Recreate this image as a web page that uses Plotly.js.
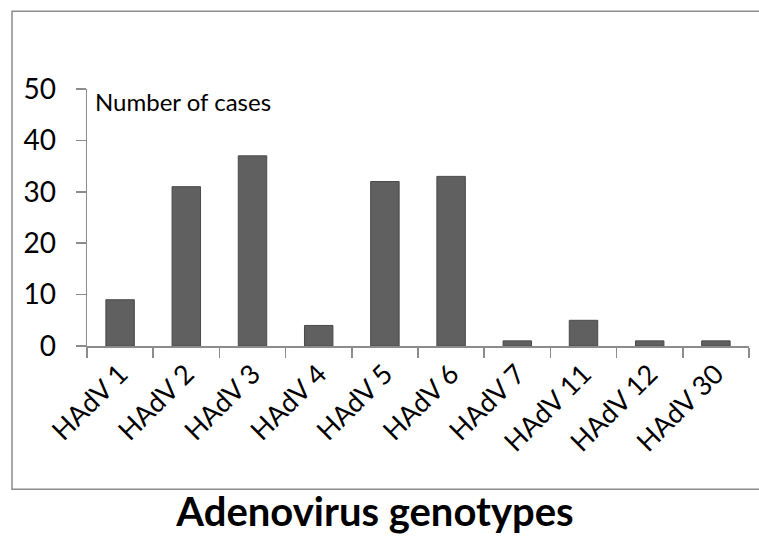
<!DOCTYPE html>
<html>
<head>
<meta charset="utf-8">
<script src="https://cdn.plot.ly/plotly-3.0.1.min.js"></script>
<style>html,body{margin:0;padding:0;background:#fff;}#chart{width:759px;height:537px;}</style>
</head>
<body>
<div id="chart"></div>
<script>
const categories = ["HAdV 1","HAdV 2","HAdV 3","HAdV 4","HAdV 5","HAdV 6","HAdV 7","HAdV 11","HAdV 12","HAdV 30"];
const cases = [9, 31, 37, 4, 32, 33, 1, 5, 1, 1];
const yTicks = [0, 10, 20, 30, 40, 50];
const chartTitle = "Adenovirus genotypes";
const yLabel = "Number of cases";

const FONT = "Lato, 'Open Sans', sans-serif";

const trace = {
  type: "bar",
  x: categories,
  y: cases,
  width: 0.43,
  marker: {color: "#606060", line: {color: "#4a4a4a", width: 1}},
  hoverinfo: "x+y"
};

const layout = {
  width: 759, height: 537,
  margin: {l: 87, r: 10, t: 89, b: 190.5},
  paper_bgcolor: "#ffffff", plot_bgcolor: "#ffffff",
  showlegend: false,
  font: {family: FONT, color: "#000"},
  title: {
    text: "<b>" + chartTitle + "</b>",
    x: 375/759, xanchor: "center", xref: "container",
    y: 1 - 512/537, yanchor: "middle", yref: "container",
    font: {family: FONT, size: 40, color: "#000"}
  },
  xaxis: {
    type: "category",
    tickson: "boundaries",
    ticks: "outside", ticklen: 10, tickcolor: "#8c8c8c", tickwidth: 1.5,
    showline: true, linecolor: "#8c8c8c", linewidth: 1.5,
    showgrid: false, zeroline: false,
    tickangle: -45,
    tickfont: {family: FONT, size: 27, color: "#000"},
    range: [-0.5, 9.5]
  },
  yaxis: {
    range: [0, 50],
    tickvals: yTicks,
    ticks: "outside", ticklen: 10, tickcolor: "#8c8c8c", tickwidth: 1.5,
    showline: true, linecolor: "#8c8c8c", linewidth: 1.5,
    showgrid: false, zeroline: false,
    ticklabelstandoff: 14,
    tickfont: {family: FONT, size: 28, color: "#000"}
  },
  annotations: [{
    text: yLabel,
    xref: "paper", yref: "paper",
    x: 6/662, y: 1 - 13/257.5,
    xanchor: "left", yanchor: "middle",
    showarrow: false,
    font: {family: FONT, size: 24, color: "#000"}
  }],
  shapes: [{
    type: "rect", xref: "paper", yref: "paper",
    x0: (12 - 87)/662, x1: 1.05,
    y0: (346.5 - 490)/257.5, y1: (346.5 - 11)/257.5,
    line: {color: "#8c8c8c", width: 1.5},
    fillcolor: "rgba(0,0,0,0)",
    layer: "below"
  }]
};

Plotly.newPlot("chart", [trace], layout, {staticPlot: true, displayModeBar: false});
</script>
</body>
</html>
